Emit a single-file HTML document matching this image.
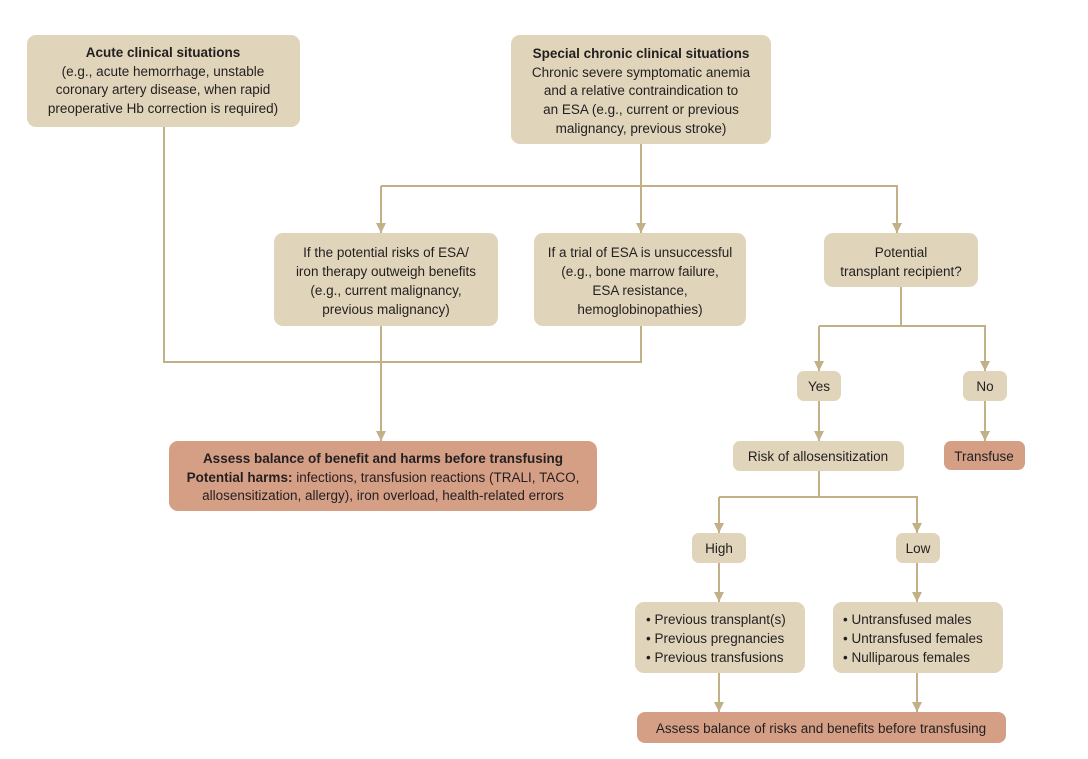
<!DOCTYPE html>
<html><head><meta charset="utf-8"><style>
html,body{margin:0;padding:0;background:#fff}
svg text{font-family:"Liberation Sans",sans-serif;font-size:13.5px;fill:#231f20}
.b{font-weight:bold}
</style></head><body>
<svg width="1088" height="754" viewBox="0 0 1088 754" xmlns="http://www.w3.org/2000/svg">
<defs><marker id="a" markerWidth="12" markerHeight="12" refX="5" refY="10" orient="0" markerUnits="userSpaceOnUse"><path d="M0,0 L10,0 L5,10 Z" fill="#c2b186"/></marker></defs>
<g fill="none" stroke="#c2b186" stroke-width="2">
<polyline points="164,127 164,362 641,362 641,326"/>
<line x1="381" y1="326" x2="381" y2="441" marker-end="url(#a)"/>
<line x1="641" y1="144" x2="641" y2="186"/>
<polyline points="381,186 897,186 897,233" marker-end="url(#a)"/>
<line x1="381" y1="186" x2="381" y2="233" marker-end="url(#a)"/>
<line x1="641" y1="186" x2="641" y2="233" marker-end="url(#a)"/>
<line x1="901" y1="287" x2="901" y2="326"/>
<polyline points="819,326 985,326 985,371" marker-end="url(#a)"/>
<line x1="819" y1="326" x2="819" y2="371" marker-end="url(#a)"/>
<line x1="819" y1="401" x2="819" y2="441" marker-end="url(#a)"/>
<line x1="985" y1="401" x2="985" y2="441" marker-end="url(#a)"/>
<line x1="819" y1="471" x2="819" y2="497"/>
<polyline points="719,497 917,497 917,533" marker-end="url(#a)"/>
<line x1="719" y1="497" x2="719" y2="533" marker-end="url(#a)"/>
<line x1="719" y1="563" x2="719" y2="602" marker-end="url(#a)"/>
<line x1="917" y1="563" x2="917" y2="602" marker-end="url(#a)"/>
<line x1="719" y1="673" x2="719" y2="712" marker-end="url(#a)"/>
<line x1="917" y1="673" x2="917" y2="712" marker-end="url(#a)"/>
</g>
<g fill="#e0d4ba">
<rect x="27" y="35" width="273" height="92" rx="9"/>
<rect x="511" y="35" width="260" height="109" rx="9"/>
<rect x="274" y="233" width="224" height="93" rx="9"/>
<rect x="534" y="233" width="212" height="93" rx="9"/>
<rect x="824" y="233" width="154" height="54" rx="9"/>
<rect x="797" y="371" width="44" height="30" rx="7"/>
<rect x="963" y="371" width="44" height="30" rx="7"/>
<rect x="733" y="441" width="171" height="30" rx="7"/>
<rect x="692" y="533" width="54" height="30" rx="7"/>
<rect x="896" y="533" width="44" height="30" rx="7"/>
<rect x="635" y="602" width="170" height="71" rx="9"/>
<rect x="833" y="602" width="170" height="71" rx="9"/>
</g>
<g fill="#d59f86">
<rect x="169" y="441" width="428" height="70" rx="9"/>
<rect x="944" y="441" width="81" height="29" rx="7"/>
<rect x="637" y="712" width="369" height="31" rx="8"/>
</g>
<g text-anchor="middle">
<text x="163" y="57" class="b">Acute clinical situations</text>
<text x="163" y="76">(e.g., acute hemorrhage, unstable</text>
<text x="163" y="94">coronary artery disease, when rapid</text>
<text x="163" y="113">preoperative Hb correction is required)</text>
<text x="641" y="58" class="b">Special chronic clinical situations</text>
<text x="641" y="77">Chronic severe symptomatic anemia</text>
<text x="641" y="95">and a relative contraindication to</text>
<text x="641" y="114">an ESA (e.g., current or previous</text>
<text x="641" y="133">malignancy, previous stroke)</text>
<text x="386" y="257">If the potential risks of ESA/</text>
<text x="386" y="276">iron therapy outweigh benefits</text>
<text x="386" y="295">(e.g., current malignancy,</text>
<text x="386" y="314">previous malignancy)</text>
<text x="640" y="257">If a trial of ESA is unsuccessful</text>
<text x="640" y="276">(e.g., bone marrow failure,</text>
<text x="640" y="295">ESA resistance,</text>
<text x="640" y="314">hemoglobinopathies)</text>
<text x="901" y="257">Potential</text>
<text x="901" y="276">transplant recipient?</text>
<text x="819" y="391">Yes</text>
<text x="985" y="391">No</text>
<text x="818" y="461">Risk of allosensitization</text>
<text x="984" y="461">Transfuse</text>
<text x="719" y="553">High</text>
<text x="918" y="553">Low</text>
<text x="383" y="463" class="b">Assess balance of benefit and harms before transfusing</text>
<text x="383" y="482"><tspan class="b">Potential harms:</tspan> infections, transfusion reactions (TRALI, TACO,</text>
<text x="383" y="500">allosensitization, allergy), iron overload, health-related errors</text>
<text x="821" y="733">Assess balance of risks and benefits before transfusing</text>
</g>
<text x="646" y="624">• Previous transplant(s)</text>
<text x="646" y="643">• Previous pregnancies</text>
<text x="646" y="662">• Previous transfusions</text>
<text x="843" y="624">• Untransfused males</text>
<text x="843" y="643">• Untransfused females</text>
<text x="843" y="662">• Nulliparous females</text>
</svg>
</body></html>
